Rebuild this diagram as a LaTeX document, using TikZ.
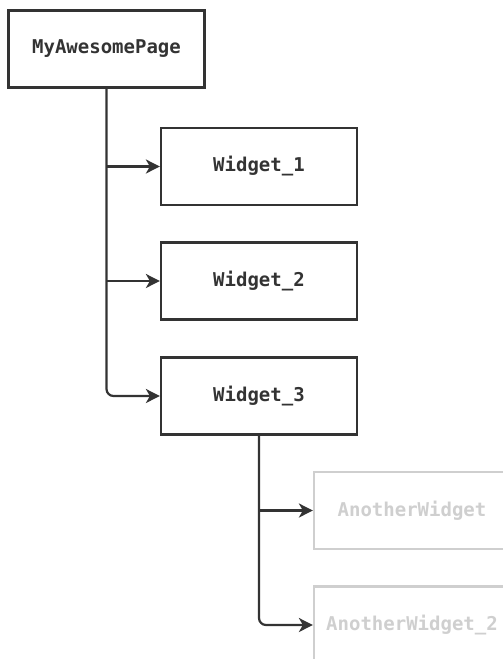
\documentclass[tikz,border=0pt]{standalone}
\usepackage{fontspec}
\setmonofont{DejaVu Sans Mono}
\usetikzlibrary{arrows.meta}
\definecolor{ink}{HTML}{333333}
\definecolor{faint}{HTML}{CFCFCF}
\tikzset{
  box/.style={draw=ink, line width=2.2pt, fill=white, minimum width=196pt, minimum height=77pt,
    inner sep=0pt, text=ink, font=\ttfamily\bfseries\fontsize{19}{22}\selectfont},
  faintbox/.style={box, draw=faint, text=faint},
  conn/.style={draw=ink, line width=2.2pt, rounded corners=7pt, -{Stealth[length=14pt,width=14pt,inset=4pt]}}
}
\begin{document}
\begin{tikzpicture}[x=1pt,y=-1pt]
\useasboundingbox (0,0) rectangle (503,659);
\clip (0,0) rectangle (503,659);
\node[box] (page) at (106.5,49) {MyAwesomePage};
\node[box] (w1) at (259,166.5) {Widget\_1};
\node[box] (w2) at (259,281) {Widget\_2};
\node[box] (w3) at (259,396) {Widget\_3};
\node[faintbox] (a1) at (412,510.5) {AnotherWidget};
\node[faintbox] (a2) at (412,625) {AnotherWidget\_2};
\draw[conn] (page.south) |- (w3.west);
\draw[conn] (page.south |- w1.west) -- (w1.west);
\draw[conn] (page.south |- w2.west) -- (w2.west);
\draw[conn] (w3.south) |- (a2.west);
\draw[conn] (w3.south |- a1.west) -- (a1.west);
\end{tikzpicture}
\end{document}
